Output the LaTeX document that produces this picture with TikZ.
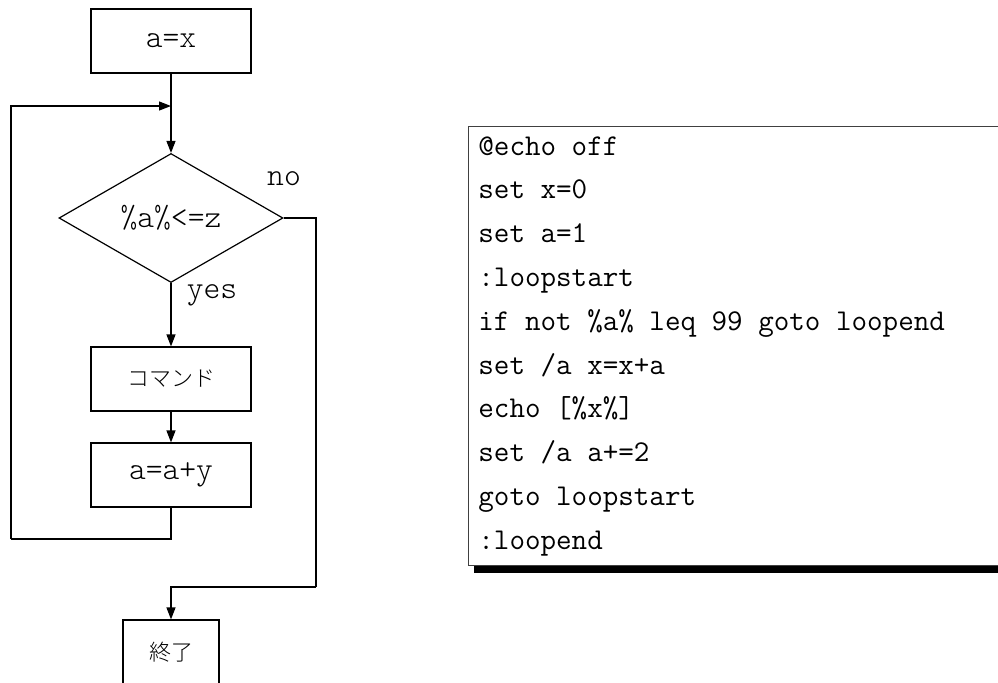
\documentclass[tikz,border=0pt]{standalone}
\usepackage{fontspec}
\newfontfamily\flowfont{Latin Modern Mono Light}
\newfontfamily\jpfont{Noto Sans CJK JP Light}
\usetikzlibrary{shapes.geometric}
\usetikzlibrary{shadows}
\usetikzlibrary{arrows.meta}
\tikzset{
flow_box/.style={rectangle, draw, line width=0.6pt, minimum width=80pt, minimum height=32pt, inner sep=0, font=\flowfont\fontsize{16}{18}\selectfont},
jp_box/.style={flow_box, font=\jpfont\fontsize{11}{13}\selectfont},
cond_box/.style={diamond, draw, line width=0.6pt, minimum width=112pt, minimum height=64.5pt, inner sep=0, font=\flowfont\fontsize{16}{18}\selectfont},
branch_label/.style={anchor=base, inner sep=0, font=\flowfont\fontsize{16}{18}\selectfont},
flow_arrow/.style={-{Triangle[length=6pt,width=4.5pt]}, line width=0.6pt},
flow_line/.style={line width=0.6pt},
code_box/.style={rectangle, draw=black!75, line width=0.5pt, fill=white, anchor=north west, minimum width=275pt, minimum height=219.5pt, drop shadow={shadow xshift=2.5pt, shadow yshift=-3.5pt, fill=black, opacity=1}},
code_line/.style={anchor=base west, inner sep=0, font=\ttfamily\fontsize{15.1}{18}\selectfont}
}
\begin{document}
\begin{tikzpicture}[x=0.5pt, y=-0.5pt]
    \useasboundingbox (0,0) rectangle (998,682);
    \clip (0,0) rectangle (998,682);
    % flowchart
    \node[flow_box] (start) at (171,41) {a=x};
    \node[cond_box] (cond) at (171,218) {\%a\%<=z};
    \node[jp_box] (cmd) at (171,379) {コマンド};
    \node[flow_box] (update) at (171,475) {a=a+y};
    \node[jp_box, minimum width=48pt] (finish) at (171,652) {終了};
    \node[branch_label] (no_label) at (284,185) {no};
    \node[branch_label] (yes_label) at (212,298) {yes};
    \coordinate (loop_join) at (171,106);
    \coordinate (loop_back) at (11,539);
    \coordinate (exit_turn) at (316,587);
    \draw[flow_arrow] (start) -- (cond);
    \draw[flow_arrow] (cond) -- (cmd);
    \draw[flow_arrow] (cmd) -- (update);
    \draw[flow_line] (update.south) |- (loop_back);
    \draw[flow_arrow] (loop_back) |- (loop_join);
    \draw[flow_line] (cond.east) -| (exit_turn);
    \draw[flow_arrow] (exit_turn) -| (finish.north);
    % batch listing
    \node[code_box] (listing) at (468,126) {};
    \foreach \codeline [count=\i] in {@echo off, set x=0, set a=1, :loopstart, if not \%a\% leq 99 goto loopend, set /a x=x+a, echo {[}\%x\%{]}, set /a a+=2, goto loopstart, :loopend}
        \node[code_line] (line_\i) at (478,{155+43.8*(\i-1)}) {\codeline};
\end{tikzpicture}
\end{document}
